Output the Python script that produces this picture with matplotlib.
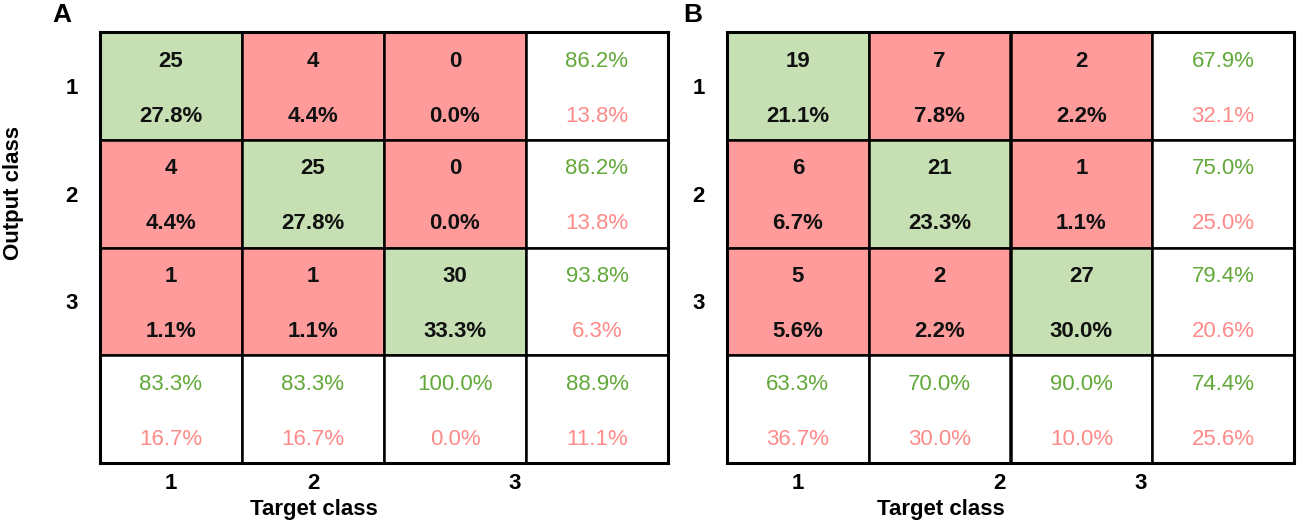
import numpy as np
import matplotlib
matplotlib.use('Agg')
import matplotlib.pyplot as plt
from matplotlib.patches import Rectangle

plt.rcParams['font.family'] = ['Liberation Sans', 'DejaVu Sans']

# panel A
counts_a = [[25, 4, 0], [4, 25, 0], [1, 1, 30]]
pct_a = [[27.8, 4.4, 0.0], [4.4, 27.8, 0.0], [1.1, 1.1, 33.3]]
row_ok_a = [86.2, 86.2, 93.8]
row_err_a = [13.8, 13.8, 6.3]
col_ok_a = [83.3, 83.3, 100.0]
col_err_a = [16.7, 16.7, 0.0]
tot_a = (88.9, 11.1)
xticks_a = [0.5, 1.5, 2.92]

# panel B
counts_b = [[19, 7, 2], [6, 21, 1], [5, 2, 27]]
pct_b = [[21.1, 7.8, 2.2], [6.7, 23.3, 1.1], [5.6, 2.2, 30.0]]
row_ok_b = [67.9, 75.0, 79.4]
row_err_b = [32.1, 25.0, 20.6]
col_ok_b = [63.3, 70.0, 90.0]
col_err_b = [36.7, 30.0, 10.0]
tot_b = (74.4, 25.6)
xticks_b = [0.5, 1.92, 2.92]

class_labels = ['1', '2', '3']

GREEN_CELL = '#c6e0b4'
RED_CELL = '#ff9b9b'
GREEN_TXT = '#62a83a'
RED_TXT = '#ff8a8a'
FS = 16


def draw_cm(ax, counts, pct, row_ok, row_err, col_ok, col_err, tot, xticks):
    n = len(counts)
    for i in range(n):
        for j in range(n):
            fc = GREEN_CELL if i == j else RED_CELL
            ax.add_patch(Rectangle((j, i), 1, 1, facecolor=fc, edgecolor='black', lw=1.8))
            ax.text(j + 0.5, i + 0.27, str(counts[i][j]), ha='center', va='center',
                    fontsize=FS, fontweight='bold', color='#111111')
            ax.text(j + 0.5, i + 0.78, f'{pct[i][j]:.1f}%', ha='center', va='center',
                    fontsize=FS, fontweight='bold', color='#111111')
    # right column (per output class)
    for i in range(n):
        ax.add_patch(Rectangle((n, i), 1, 1, facecolor='white', edgecolor='black', lw=1.8))
        ax.text(n + 0.5, i + 0.27, f'{row_ok[i]:.1f}%', ha='center', va='center',
                fontsize=FS, color=GREEN_TXT)
        ax.text(n + 0.5, i + 0.78, f'{row_err[i]:.1f}%', ha='center', va='center',
                fontsize=FS, color=RED_TXT)
    # bottom row (per target class) + total
    oks = list(col_ok) + [tot[0]]
    errs = list(col_err) + [tot[1]]
    for j in range(n + 1):
        ax.add_patch(Rectangle((j, n), 1, 1, facecolor='white', edgecolor='black', lw=1.8))
        ax.text(j + 0.5, n + 0.27, f'{oks[j]:.1f}%', ha='center', va='center',
                fontsize=FS, color=GREEN_TXT)
        ax.text(j + 0.5, n + 0.78, f'{errs[j]:.1f}%', ha='center', va='center',
                fontsize=FS, color=RED_TXT)

    ax.set_xlim(0, n + 1)
    ax.set_ylim(n + 1, 0)
    ax.set_xticks(xticks)
    ax.set_xticklabels(class_labels, fontsize=FS, fontweight='bold')
    ax.set_yticks([0.5, 1.5, 2.5])
    ax.set_yticklabels(class_labels, fontsize=FS, fontweight='bold')
    ax.tick_params(axis='both', length=0)
    ax.tick_params(axis='x', pad=7)
    ax.tick_params(axis='y', pad=16)
    for s in ax.spines.values():
        s.set_linewidth(2.2)
        s.set_zorder(5)
    ax.set_xlabel('Target class', fontsize=FS, fontweight='bold', va='center')
    ax.xaxis.set_label_coords(0.377, -0.107)


fig = plt.figure(figsize=(12.99, 5.23), dpi=100)
W, H = 1299, 523
ax_a = fig.add_axes([100 / W, (H - 463) / H, 568 / W, 431 / H])
ax_b = fig.add_axes([727 / W, (H - 463) / H, 567 / W, 431 / H])

draw_cm(ax_a, counts_a, pct_a, row_ok_a, row_err_a, col_ok_a, col_err_a, tot_a, xticks_a)
draw_cm(ax_b, counts_b, pct_b, row_ok_b, row_err_b, col_ok_b, col_err_b, tot_b, xticks_b)

ax_a.set_ylabel('Output class', fontsize=FS, fontweight='bold', va='center')
ax_a.yaxis.set_label_coords(-0.153, 0.626)

fig.text(62 / W, 1 - 15 / H, 'A', fontsize=19, fontweight='bold', ha='center', va='center')
fig.text(693 / W, 1 - 15 / H, 'B', fontsize=19, fontweight='bold', ha='center', va='center')

fig.savefig('out.png', dpi=100)
